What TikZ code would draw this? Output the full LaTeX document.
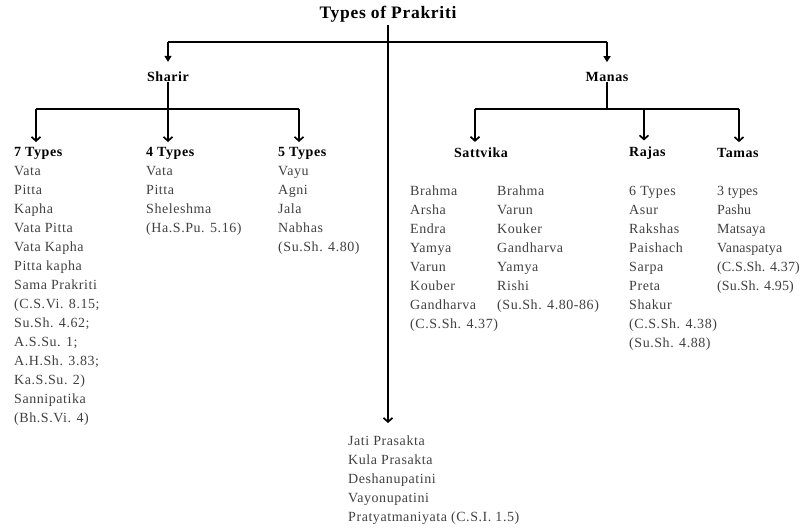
\documentclass[tikz,border=0pt]{standalone}
\usepackage{fontspec}
\setmainfont{Liberation Serif}[LetterSpace=4]
\usepackage{tikz}
\usetikzlibrary{
  arrows.meta, % for Straight Barb and Triangle tips
  positioning, % for relative positioning of the lists
}
\tikzset{
  head/.style={ % style for the bold headings
    font=\fontsize{14}{19}\selectfont\bfseries, % bold, same size as the lists
    inner sep=0pt, % no padding round the text
  },
  block/.style={ % style for the lists of types
    font=\fontsize{14}{19}\selectfont, % one line every 19pt
    text=black!75, % grey body text
    align=left, % lines flush left
    inner sep=0pt,
    anchor=north west,
  },
  line/.style={ % plain connecting bars
    line width=1.7pt,
    line join=round,
  },
  conn/.style={ % down arrows to the lists
    line,
    -{Straight Barb[length=4pt,width=9pt]},
  },
  top/.style={ % down arrows to Sharir and Manas
    line,
    -{Triangle[length=6pt,width=7pt]},
  },
}

\begin{document}
\begin{tikzpicture}[x=1pt,y=-1pt]
	\useasboundingbox (0,0) rectangle (801,530);
	
	\node[head,font=\fontsize{17.5}{20}\selectfont\bfseries,inner sep=3pt] (title) at (388,14) {Types of Prakriti};
	
	\node[head] (sharir) at (168,77) {Sharir};
	
	\node[head] (manas) at (607,77) {Manas};
	
	% bars
	\coordinate (tbar) at (388,42);
	\coordinate (sbar) at (168,109);
	\coordinate (mbar) at (607,109);
	\coordinate (s1) at (36,109);
	\coordinate (s3) at (299,109);
	\coordinate (m1) at (475,109);
	\coordinate (m2) at (644,109);
	\coordinate (m3) at (739,109);
	
	% Sharir lists
	\node[block] (sevn) at (14,147) {\textcolor{black}{\textbf{7 Types}}\\Vata\\Pitta\\Kapha\\Vata Pitta\\Vata Kapha\\Pitta kapha\\Sama Prakriti\\(C.S.Vi. 8.15;\\Su.Sh. 4.62;\\A.S.Su. 1;\\A.H.Sh. 3.83;\\Ka.S.Su. 2)\\Sannipatika\\(Bh.S.Vi. 4)};
	
	\node[block] (four) at (146,147) {\textcolor{black}{\textbf{4 Types}}\\Vata\\Pitta\\Sheleshma\\(Ha.S.Pu. 5.16)};
	
	\node[block] (five) at (278,147) {\textcolor{black}{\textbf{5 Types}}\\Vayu\\Agni\\Jala\\Nabhas\\(Su.Sh. 4.80)};
	
	% Manas lists
	\node[head] (sattvika) at (481,153) {Sattvika};
	
	\node[head,anchor=west] (rajas) at (629,153) {Rajas};
	
	\node[head,anchor=west] (tamas) at (717,153) {Tamas};
	
	\node[block] (sat1) at (410,186) {Brahma\\Arsha\\Endra\\Yamya\\Varun\\Kouber\\Gandharva\\(C.S.Sh. 4.37)};
	
	\node[block] (sat2) at (497,186) {Brahma\\Varun\\Kouker\\Gandharva\\Yamya\\Rishi\\(Su.Sh. 4.80-86)};
	
	\node[block] (raj) at (629,186) {6 Types\\Asur\\Rakshas\\Paishach\\Sarpa\\Preta\\Shakur\\(C.S.Sh. 4.38)\\(Su.Sh. 4.88)};
	
	\node[block,font=\fontsize{14}{19}\selectfont\addfontfeature{LetterSpace=1}] (tam) at (717,186) {3 types\\Pashu\\Matsaya\\Vanaspatya\\(C.S.Sh. 4.37)\\(Su.Sh. 4.95)};
	
	\node[block] (others) at (348,436) {Jati Prasakta\\Kula Prasakta\\Deshanupatini\\Vayonupatini\\Pratyatmaniyata (C.S.I. 1.5)};
	
	% connections
	\draw[conn,shorten >=13pt] (title.south) -- (title.south |- others.north);
	\draw[line] (sharir |- tbar) -- (manas |- tbar);
	\draw[top,shorten >=10pt] (sharir |- tbar) -- (sharir.north);
	\draw[top,shorten >=10pt] (manas |- tbar) -- (manas.north);
	
	\draw[line] (sharir.south) -- (sbar);
	\draw[line] (s1) -- (s3);
	\draw[conn,shorten >=5pt] (s1) -- (s1 |- sevn.north);
	\draw[conn,shorten >=5pt] (sbar) -- (sbar |- four.north);
	\draw[conn,shorten >=5pt] (s3) -- (s3 |- five.north);
	
	\draw[line] (manas.south) -- (mbar);
	\draw[line] (m1) -- (m3);
	\draw[conn,shorten >=6pt] (m1) -- (m1 |- sattvika.north);
	\draw[conn,shorten >=6pt] (m2) -- (m2 |- rajas.north);
	\draw[conn,shorten >=6pt] (m3) -- (m3 |- tamas.north);
\end{tikzpicture}
\end{document}
